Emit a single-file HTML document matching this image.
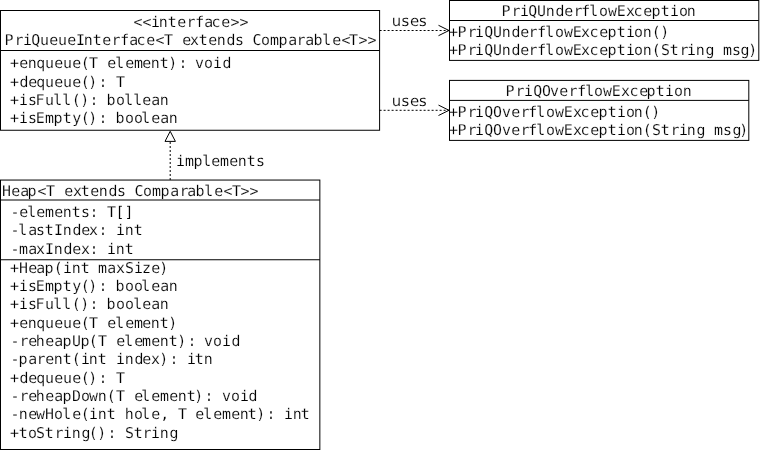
<!DOCTYPE html>
<html lang="en"><head><meta charset="utf-8"><title>PriQueue UML class diagram</title>
<style>
html,body{margin:0;padding:0;background:#fff;}
body{width:761px;height:450px;overflow:hidden;position:relative;}
svg{position:absolute;left:0;top:0;display:block;filter:grayscale(1);}
text{font-family:"DejaVu Sans Mono", "Liberation Mono", monospace;font-size:14.9px;letter-spacing:-0.1406px;text-rendering:geometricPrecision;fill:#000;stroke:#fff;stroke-width:0.16px;white-space:pre;}
text.s{font-family:"DejaVu Sans", "Liberation Sans", sans-serif;font-size:14.9px;letter-spacing:0;}
rect,line,polyline,polygon{fill:none;stroke:#000;stroke-width:1px;}
line.d{stroke-dasharray:2 2;}
</style></head><body>
<svg width="761" height="450" viewBox="0 0 761 450">
<rect x="0" y="0" width="761" height="450" style="fill:#fff;stroke:none"/>
<g>
<text x="133.51 142.51 150.89 158.87 167.76 177.15 186.38 195.33 204.29 211.45 221.15 230.5 239.5" y="27">&lt;&lt;interface&gt;&gt;</text>
<text x="4.61 14.38 22.89 31.13 40.07 49.15 58.07 67.15 76.02 83.87 92.76 102.15 111.38 120.33 129.29 136.45 146.15 155.51 164.02 173 182.15 190.01 198.76 208.15 216.87 226.43 235.03 243 252.39 261.02 269.94 278.59 288.29 296.38 305.29 313.57 322.36 332.15 341.51 349.02 358.5 367.5" y="45">PriQueueInterface&lt;T extends Comparable&lt;T&gt;&gt;</text>
<text x="10.02 19.15 27.87 36.34 45.07 54.15 63.07 72.15 80.72 89.02 98 107.15 115.36 125.15 133.94 142.15 150.87 159.76 168.31 178.53 187 195.01 204.02 212.89 222.43" y="68">+enqueue(T element): void</text>
<text x="10.02 19.43 28.15 36.34 45.07 54.15 63.07 72.15 80.72 88.31 98.53 107 116.02" y="87">+dequeue(): T</text>
<text x="10.02 18.89 28.03 35.59 45.07 53.36 62.36 71.72 80.31 89.53 98 106.57 116.02 124.36 133.36 142.15 151.29 159.87" y="105">+isFull(): bollean</text>
<text x="10.02 18.89 28.03 35.78 44.94 53.59 62.76 72.14 80.72 88.31 98.53 107 115.57 125.02 134.02 141.36 151.15 160.29 168.87" y="123">+isEmpty(): boolean</text>
<text x="2.02 11.15 20.29 27.59 37.51 46.02 55 64.15 73.01 80.76 90.15 98.87 108.43 117.03 126 134.39 143.02 151.94 160.59 170.29 179.38 187.29 195.57 204.36 214.15 223.51 232.02 240.5 249.5" y="196">Heap&lt;T extends Comparable&lt;T&gt;&gt;</text>
<text x="10.52 19.15 27.36 36.15 44.94 54.15 62.87 71.76 81.03 89.53 98 107.02 115.54 124.47" y="217">-elements: T[]</text>
<text x="10.52 18.36 28.29 36.03 44.76 54.02 62.87 72.43 81.15 89.01 98.53 107 115.89 124.87 133.76" y="235">-lastIndex: int</text>
<text x="10.52 18.94 28.29 36.01 45.02 53.87 63.43 72.15 81.01 89.53 98 106.89 115.87 124.76" y="254">-maxIndex: int</text>
<text x="10.02 19.02 28.15 36.29 44.59 53.72 62.89 71.87 80.76 89 97.94 107.29 116.01 125.03 133.89 141.96 151.15 159.31" y="273">+Heap(int maxSize)</text>
<text x="10.02 18.89 28.03 35.78 44.94 53.59 62.76 72.14 80.72 88.31 98.53 107 115.57 125.02 134.02 141.36 151.15 160.29 168.87" y="291">+isEmpty(): boolean</text>
<text x="10.02 18.89 28.03 35.59 45.07 53.36 62.36 71.72 80.31 89.53 98 106.57 116.02 125.02 133.36 142.15 151.29 159.87" y="309">+isFull(): boolean</text>
<text x="10.02 19.15 27.87 36.34 45.07 54.15 63.07 72.15 80.72 89.02 98 107.15 115.36 125.15 133.94 142.15 150.87 159.76 168.31" y="328">+enqueue(T element)</text>
<text x="10.52 19.38 28.15 35.85 45.15 54.29 62.59 72.02 80.59 88.72 98.02 107 116.15 124.36 134.15 141.94 151.15 159.87 168.76 177.31 187.53 195 204.01 213.02 221.89 231.43" y="346">-reheapUp(T element): void</text>
<text x="10.52 18.59 28.29 36.38 45.15 53.87 62.76 71.72 80.89 88.87 97.76 107 115.89 124.87 134.43 142.15 151.01 159.31 169.53 178 186.89 194.76 203.87" y="364">-parent(int index): itn</text>
<text x="10.02 19.43 28.15 36.34 45.07 54.15 63.07 72.15 80.72 88.31 98.53 107 116.02" y="383">+dequeue(): T</text>
<text x="10.52 19.38 28.15 35.85 45.15 54.29 62.59 71.89 81.02 89 97.87 106.72 116.02 125 134.15 141.36 151.15 159.94 169.15 177.87 186.76 194.31 204.53 213 222.01 231.02 239.89 248.43" y="401">-reheapDown(T element): void</text>
<text x="10.52 18.87 28.15 36 45.02 54.02 62.36 72.15 80.72 88.89 97.87 106.76 116 124.85 134.02 141.36 151.15 160.34 169 178.02 187 195.15 203.36 213.15 221.94 231.15 239.87 247.76 256.31 266.53 275 283.89 292.87 300.76" y="419">-newHole(int hole, T element): int</text>
<text x="10.02 18.76 28.02 36.03 44.76 54.38 62.89 71.87 81.4 88.72 97.31 107.53 116 125.03 133.76 142.38 150.89 159.87 169.4" y="438">+toString(): String</text>
<text x="501.61 511.38 519.89 528.13 537.02 545.87 555.43 564.15 573.38 581.33 589.36 599.02 608 616.78 626.01 633.45 643.15 651.59 660.76 669.89 679.02 686.87" y="16">PriQUnderflowException</text>
<text x="449.02 457.61 467.38 474.89 484.13 493.02 501.87 511.43 520.15 528.38 537.33 545.36 555.02 564 572.78 581.01 589.45 599.15 607.59 616.76 625.89 634.02 642.87 651.72 660.31" y="37">+PriQUnderflowException()</text>
<text x="449.02 457.61 467.38 474.89 484.13 493.02 501.87 511.43 520.15 528.38 537.33 545.36 555.02 564 572.78 581.01 589.45 599.15 607.59 616.76 625.89 634.02 642.87 651.72 661.03 669.76 679.38 686.89 695.87 705.4 714 722.94 732.03 740.4 748.31" y="55">+PriQUnderflowException(String msg)</text>
<text x="505.61 515.38 523.89 533.13 542.01 550.01 559.15 568.38 577.33 585.36 594.02 603 611.78 621.01 629.45 639.15 646.59 655.76 664.89 674.02 682.87" y="96">PriQOverflowException</text>
<text x="449.02 457.61 467.38 474.89 484.13 493.01 502.01 511.15 520.38 528.33 536.36 546.02 555 563.78 573.01 580.45 590.15 598.59 607.76 616.89 626.02 633.87 642.72 651.31" y="117">+PriQOverflowException()</text>
<text x="449.02 457.61 467.38 474.89 484.13 493.01 502.01 511.15 520.38 528.33 536.36 546.02 555 563.78 573.01 580.45 590.15 598.59 607.76 616.89 626.02 633.87 642.72 652.03 660.76 670.38 678.89 686.87 696.4 705 713.94 723.03 732.4 739.31" y="135">+PriQOverflowException(String msg)</text>
<text x="175.89 184.94 193.59 202.36 211.15 219.94 229.15 237.87 246.76 256.03" y="166">implements</text>
<text x="391.82 401.58 409.91 418.98" y="26" class="s">uses</text>
<text x="391.82 401.58 409.91 418.98" y="106" class="s">uses</text>
</g>
<g>
<rect x="0.5" y="10.5" width="379.1" height="119.75"/>
<line x1="0.5" y1="50.5" x2="379.6" y2="50.5"/>
<rect x="0.5" y="180.05" width="319.35" height="269.45"/>
<line x1="0.5" y1="200.0" x2="319.85" y2="200.0"/>
<line x1="0.5" y1="259.75" x2="319.85" y2="259.75"/>
<rect x="449.5" y="0.5" width="309.3" height="59.9"/>
<line x1="449.5" y1="20.5" x2="758.8" y2="20.5"/>
<rect x="449.5" y="80.4" width="299.3" height="60.0"/>
<line x1="449.5" y1="100.4" x2="748.8" y2="100.4"/>
<line class="d" x1="379.6" y1="30.5" x2="449" y2="30.5"/>
<polyline points="438.5,25.3 449,30.5 438.5,35.7"/>
<line class="d" x1="379.6" y1="110.3" x2="449" y2="110.3"/>
<polyline points="438.5,105.1 449,110.3 438.5,115.5"/>
<line class="d" x1="170.2" y1="180" x2="170.2" y2="141.5"/>
<polygon points="170.2,131.3 175.4,141.4 165,141.4"/>
</g>
</svg>
</body></html>
